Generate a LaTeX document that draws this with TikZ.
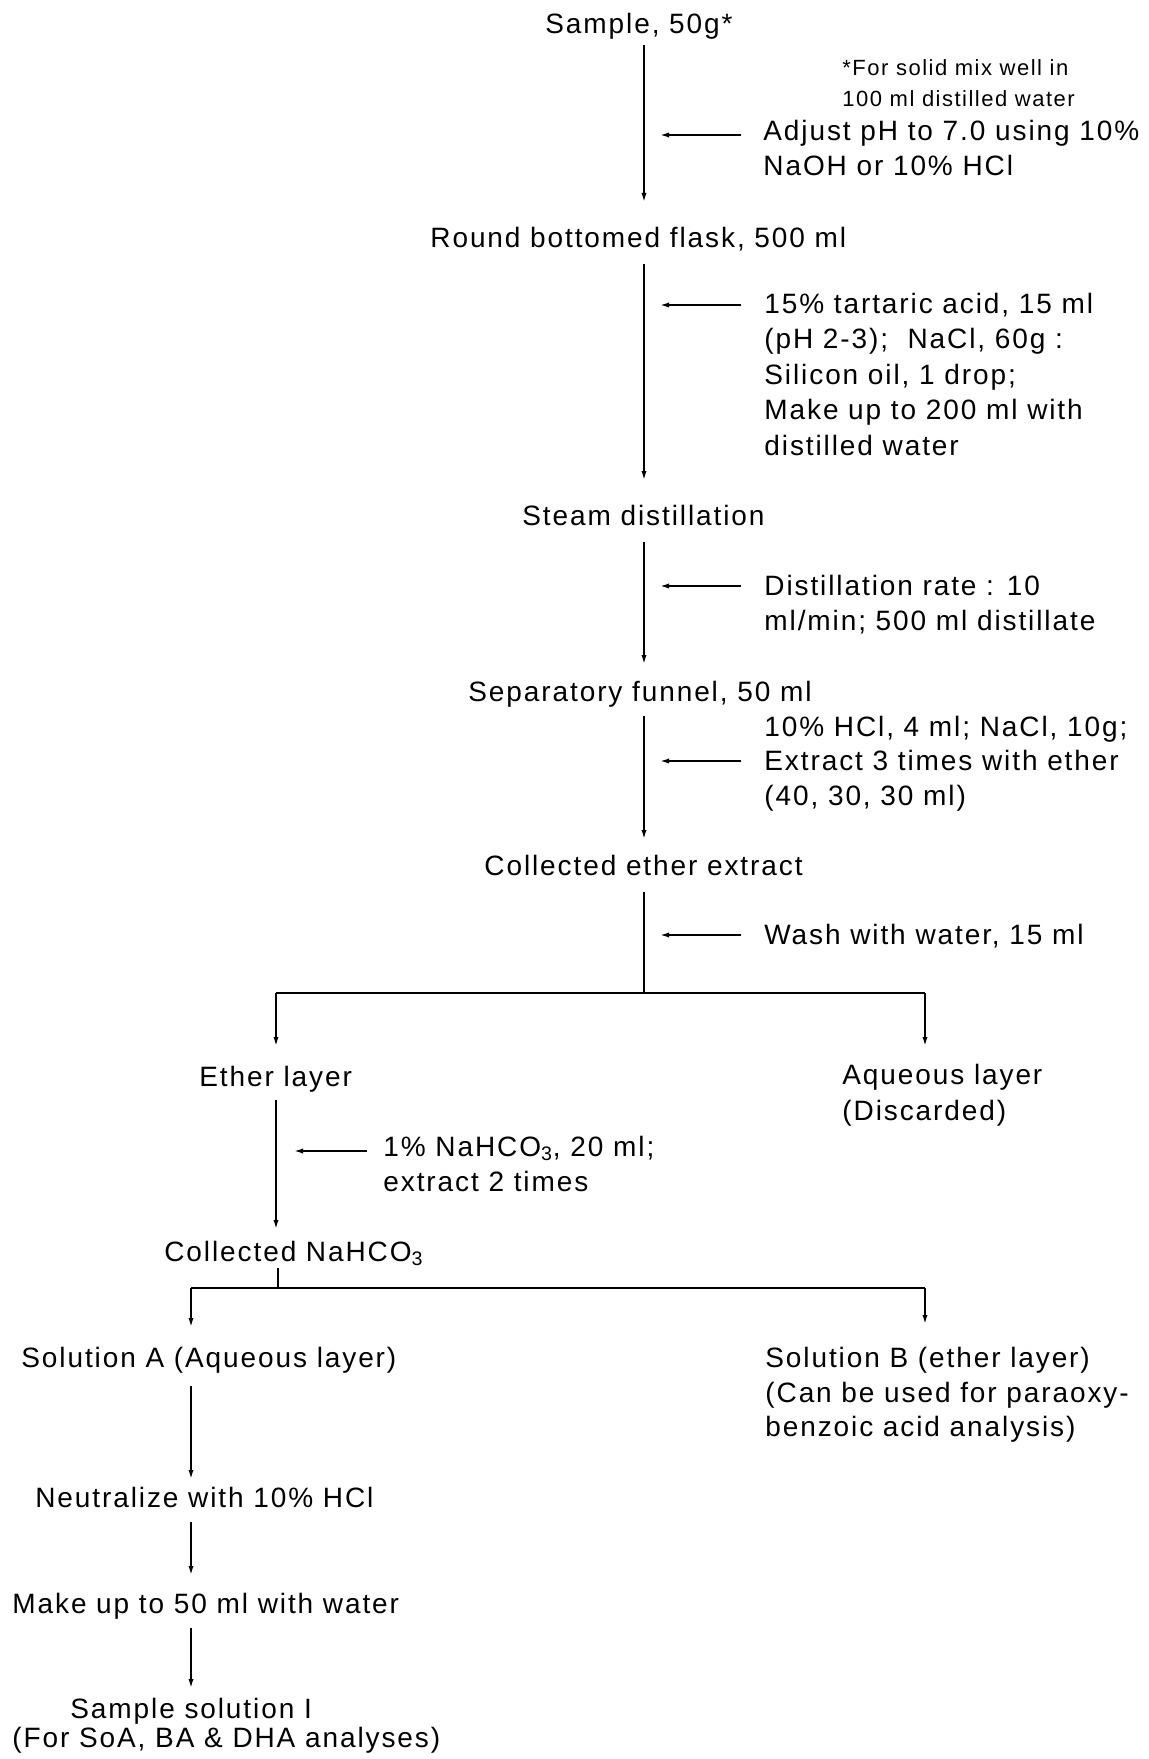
\documentclass[tikz,border=0pt]{standalone}
\usepackage{fontspec}
\setmainfont{Liberation Sans}[LetterSpace=6.8]
\usetikzlibrary{arrows.meta}
\begin{document}
\begin{tikzpicture}[x=0.5pt,y=-0.5pt,
  txt/.style={anchor=base west, inner sep=0pt, font=\fontsize{14}{17}\selectfont},
  note/.style={anchor=base west, inner sep=0pt, font=\fontsize{11}{13}\selectfont},
  flow/.style={line width=0.8pt, -{Latex[length=4.5pt,width=2.6pt]}},
  plain/.style={line width=0.8pt},
]
\useasboundingbox (0,0) rectangle (1149,1759);

% ---- texts ----
\node[txt] (sample) at (545,34) {Sample, 50g*};
\node[note] (n1) at (842,76) {*For solid mix well in};
\node[note] (n2) at (842,107) {100 ml distilled water};
\node[txt] (adj1) at (763,141) {Adjust pH to 7.0 using 10\%};
\node[txt] (adj2) at (763,176) {NaOH or 10\% HCl};
\node[txt] (flask) at (430,248) {Round bottomed flask, 500 ml};
\node[txt] (t1) at (764,314) {15\% tartaric acid, 15 ml};
\node[txt] (t2) at (764,349) {(pH 2-3);\ \ NaCl, 60g :};
\node[txt] (t3) at (764,385) {Silicon oil, 1 drop;};
\node[txt] (t4) at (764,420) {Make up to 200 ml with};
\node[txt] (t5) at (764,455) {distilled water};
\node[txt] (steam) at (522,525) {Steam distillation};
\node[txt] (d1) at (764,595) {Distillation rate : 10};
\node[txt] (d2) at (764,630) {ml/min; 500 ml distillate};
\node[txt] (sep) at (468,701) {Separatory funnel, 50 ml};
\node[txt] (s1) at (764,736) {10\% HCl, 4 ml; NaCl, 10g;};
\node[txt] (s2) at (764,770) {Extract 3 times with ether};
\node[txt] (s3) at (764,805) {(40, 30, 30 ml)};
\node[txt] (ether) at (484,875) {Collected ether extract};
\node[txt] (wash) at (764,944) {Wash with water, 15 ml};
\node[txt] (elayer) at (199,1086) {Ether layer};
\node[txt] (aq1) at (842,1084) {Aqueous layer};
\node[txt] (aq2) at (842,1120) {(Discarded)};
\node[txt] (b1) at (383,1156) {1\% NaHCO\textsubscript{3}, 20 ml;};
\node[txt] (b2) at (383,1191) {extract 2 times};
\node[txt] (coll) at (164,1261) {Collected NaHCO\textsubscript{3}};
\node[txt] (solA) at (21,1367) {Solution A (Aqueous layer)};
\node[txt] (solB1) at (765,1367) {Solution B (ether layer)};
\node[txt] (solB2) at (765,1402) {(Can be used for paraoxy-};
\node[txt] (solB3) at (765,1436) {benzoic acid analysis)};
\node[txt] (neut) at (35,1507) {Neutralize with 10\% HCl};
\node[txt] (make) at (12,1613) {Make up to 50 ml with water};
\node[txt] (final1) at (70,1718) {Sample solution I};
\node[txt] (final2) at (12,1747) {(For SoA, BA \& DHA analyses)};

% ---- connector end points ----
\coordinate (m0) at (644,45);   \coordinate (m1) at (644,202);
\coordinate (m2) at (644,264);  \coordinate (m3) at (644,480);
\coordinate (m4) at (644,542);  \coordinate (m5) at (644,664);
\coordinate (m6) at (644,716);  \coordinate (m7) at (644,839);
\coordinate (m8) at (644,892);  \coordinate (m9) at (644,993);
\coordinate (a1s) at (741,135); \coordinate (a1e) at (660,135);
\coordinate (a2s) at (741,305); \coordinate (a2e) at (660,305);
\coordinate (a3s) at (741,586); \coordinate (a3e) at (660,586);
\coordinate (a4s) at (741,761); \coordinate (a4e) at (660,761);
\coordinate (a5s) at (741,935); \coordinate (a5e) at (660,935);
\coordinate (hL) at (276,993);  \coordinate (hR) at (925,993);
\coordinate (hLe) at (276,1046); \coordinate (hRe) at (925,1046);
\coordinate (e0) at (276,1100); \coordinate (e1) at (276,1229);
\coordinate (a6s) at (367,1151); \coordinate (a6e) at (294,1151);
\coordinate (c0) at (278,1268); \coordinate (c1) at (278,1288);
\coordinate (gL) at (191,1288); \coordinate (gR) at (925,1288);
\coordinate (gLe) at (191,1327); \coordinate (gRe) at (925,1324);
\coordinate (f0) at (191,1386); \coordinate (f1) at (191,1479);
\coordinate (f2) at (191,1522); \coordinate (f3) at (191,1575);
\coordinate (f4) at (191,1628); \coordinate (f5) at (191,1688);

% ---- connectors ----
\draw[flow] (m0) -- (m1);
\draw[flow] (m2) -- (m3);
\draw[flow] (m4) -- (m5);
\draw[flow] (m6) -- (m7);
\draw[plain] (m8) -- (m9);
\draw[flow] (a1s) -- (a1e);
\draw[flow] (a2s) -- (a2e);
\draw[flow] (a3s) -- (a3e);
\draw[flow] (a4s) -- (a4e);
\draw[flow] (a5s) -- (a5e);
\draw[plain] (hL) -- (hR);
\draw[flow] (hL) -- (hLe);
\draw[flow] (hR) -- (hRe);
\draw[flow] (e0) -- (e1);
\draw[flow] (a6s) -- (a6e);
\draw[plain] (c0) -- (c1);
\draw[plain] (gL) -- (gR);
\draw[flow] (gL) -- (gLe);
\draw[flow] (gR) -- (gRe);
\draw[flow] (f0) -- (f1);
\draw[flow] (f2) -- (f3);
\draw[flow] (f4) -- (f5);
\end{tikzpicture}
\end{document}
